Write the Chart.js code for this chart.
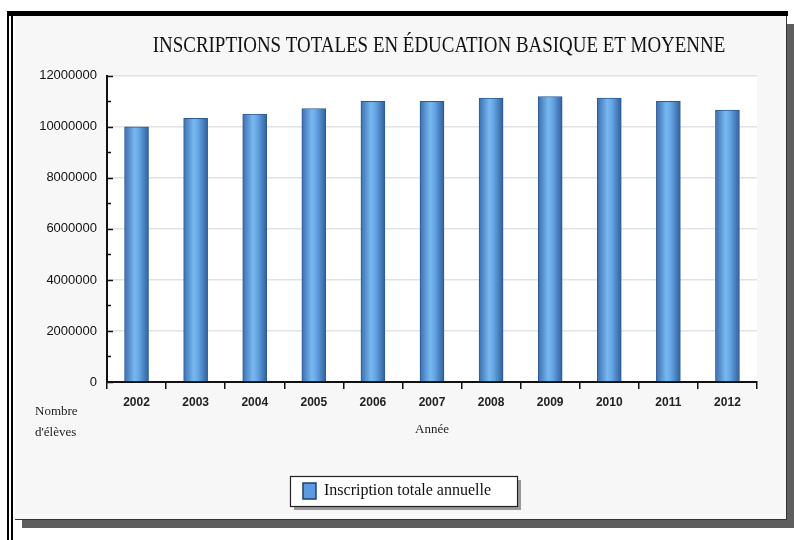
<!DOCTYPE html>
<html>
<head>
<meta charset="utf-8">
<script src="https://cdn.jsdelivr.net/npm/chart.js@4.4.1/dist/chart.umd.min.js"></script>
<style>
  body { margin: 0; width: 794px; height: 540px; background: #fff; position: relative; overflow: hidden; }
  .line { position: absolute; background: #000; }
  #panel {
    position: absolute; left: 15px; top: 16px; width: 771px; height: 503px;
    background: #f7f7f7; border-right: 1px solid #333; border-bottom: 1px solid #333;
    box-shadow: 7px 8px 0 #5e5e5e;
  }
  #chart { position: absolute; left: 0; top: 0; }
</style>
</head>
<body>
<div class="line" style="left:7px;top:11px;width:2px;height:529px"></div>
<div class="line" style="left:11px;top:11px;width:2px;height:529px"></div>
<div class="line" style="left:7px;top:11px;width:781px;height:5px"></div>
<div id="panel"></div>
<canvas id="chart" width="794" height="540"></canvas>
<script>
const years = ['2002', '2003', '2004', '2005', '2006', '2007', '2008', '2009', '2010', '2011', '2012'];
const enrolment = [10000000, 10330000, 10500000, 10720000, 11000000, 11000000, 11130000, 11190000, 11130000, 11000000, 10660000];
const seriesName = 'Inscription totale annuelle';
const chartTitle = 'INSCRIPTIONS TOTALES EN ÉDUCATION BASIQUE ET MOYENNE';
const xTitle = 'Année';
const yTitleLines = ['Nombre', "d'élèves"];

// cylinder-like shading across each bar
function barGradient(c) {
    const chart = c.chart;
    const x = chart.scales.x;
    if (c.type !== 'data' || !x) return '#5c9ce2';
    const cx = x.getPixelForValue(c.dataIndex);
    if (!isFinite(cx)) return '#5c9ce2';
    const g = chart.ctx.createLinearGradient(cx - 12, 0, cx + 12, 0);
    g.addColorStop(0, '#3b6fb0');
    g.addColorStop(0.42, '#78b8f0');
    g.addColorStop(0.6, '#66a6e6');
    g.addColorStop(1, '#30609c');
    return g;
}

const squeezeTitle = {
    id: 'squeezeTitle',
    beforeDraw(chart) {
        const t = chart.titleBlock;
        if (!t || t._squeezed) return;
        const draw = t.draw.bind(t);
        t.draw = function () {
            const ctx = this.ctx;
            const cx = (this.left + this.right) / 2;
            ctx.save();
            ctx.translate(439, 0);
            ctx.scale(0.795, 1);
            ctx.translate(-cx, 0);
            draw();
            ctx.restore();
        };
        t._squeezed = true;
    }
};

const backdrop = {
    id: 'backdrop',
    beforeDraw(chart) {
        const ctx = chart.ctx;
        const a = chart.chartArea;
        ctx.save();
        ctx.fillStyle = '#ffffff';
        ctx.fillRect(a.left, a.top, a.right - a.left, a.bottom - a.top);
        // legend frame with shadow
        const hb = chart.legend.legendHitBoxes[0];
        if (hb) {
            const l = hb.left - 13, t = hb.top - 7, w = hb.width + 39, h = hb.height + 14;
            ctx.fillStyle = '#9a9a9a';
            ctx.fillRect(l + 4, t + 4, w, h);
            ctx.fillStyle = '#ffffff';
            ctx.fillRect(l, t, w, h);
            ctx.strokeStyle = '#222';
            ctx.lineWidth = 1.2;
            ctx.strokeRect(l + 0.5, t + 0.5, w, h);
        }
        ctx.restore();
    },
    afterDraw(chart) {
        const ctx = chart.ctx;
        const y = chart.scales.y;
        const left = chart.chartArea.left;
        ctx.save();
        ctx.strokeStyle = '#111';
        ctx.lineWidth = 1.5;
        y.ticks.forEach(t => {
            const py = Math.round(y.getPixelForValue(t.value)) + 0.5;
            const len = t.value % 2000000 === 0 ? 6 : 4;
            ctx.beginPath();
            ctx.moveTo(left, py);
            ctx.lineTo(left + len, py);
            ctx.stroke();
        });
        ctx.fillStyle = '#222';
        ctx.font = '13px "Liberation Serif", serif';
        ctx.textBaseline = 'middle';
        ctx.fillText(yTitleLines[0], 35, 412);
        ctx.fillText(yTitleLines[1], 35, 433);
        ctx.restore();
    }
};

new Chart(document.getElementById('chart'), {
    type: 'bar',
    data: {
        labels: years,
        datasets: [{
            label: seriesName,
            data: enrolment,
            backgroundColor: barGradient,
            borderColor: '#2d5a94',
            borderWidth: 1,
            barThickness: 24
        }]
    },
    options: {
        responsive: false,
        animation: false,
        layout: { padding: { left: 37, right: 37, top: 0, bottom: 31 } },
        plugins: {
            title: {
                display: true,
                text: chartTitle,
                color: '#111',
                font: { family: '"Liberation Serif", serif', size: 24, weight: 'normal' },
                padding: { top: 31, bottom: 16 }
            },
            legend: {
                position: 'bottom',
                labels: {
                    color: '#111',
                    font: { family: '"Liberation Serif", serif', size: 16 },
                    boxWidth: 13,
                    boxHeight: 16,
                    padding: 10,
                    generateLabels: chart => Chart.defaults.plugins.legend.labels.generateLabels(chart)
                        .map(l => ({ ...l, fillStyle: '#5b9be0', strokeStyle: '#1f3f6e', lineWidth: 1.5 }))
                }
            },
            tooltip: { enabled: false }
        },
        scales: {
            x: {
                offset: true,
                grid: { offset: true, drawOnChartArea: false, color: '#111', lineWidth: 1.5, tickLength: 7 },
                border: { color: '#111', width: 2 },
                ticks: {
                    color: '#222',
                    padding: 6,
                    font: { family: '"Liberation Sans", sans-serif', size: 12, weight: 'bold' }
                },
                title: {
                    display: true,
                    text: xTitle,
                    color: '#222',
                    font: { family: '"Liberation Serif", serif', size: 13 },
                    padding: { top: 9, bottom: 36 }
                },
                afterFit(s) { s.height = 91; }
            },
            y: {
                min: 0,
                max: 12000000,
                ticks: {
                    stepSize: 1000000,
                    color: '#111',
                    padding: 10,
                    font: { family: '"Liberation Sans", sans-serif', size: 13 },
                    callback: v => (v % 2000000 === 0 ? String(v) : '')
                },
                grid: {
                    drawTicks: false,
                    color: c => (c.tick && c.tick.value % 2000000 === 0 ? '#e2e2e2' : 'rgba(0,0,0,0)'),
                    lineWidth: 1.5
                },
                border: { color: '#111', width: 2 },
                afterFit(s) { s.width = 70; }
            }
        }
    },
    plugins: [squeezeTitle, backdrop]
});
</script>
</body>
</html>
